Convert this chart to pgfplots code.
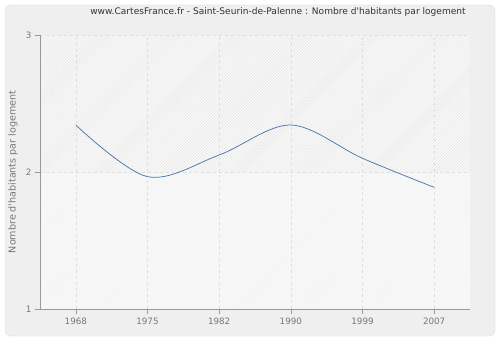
\documentclass[border=0pt]{standalone}
\usepackage{pgfplots}
\pgfplotsset{compat=1.18}
\usepackage{fontspec}
\setmainfont{DejaVu Sans}
\newfontfamily\df{DejaVu Sans}
\usetikzlibrary{patterns}
\definecolor{bgc}{HTML}{EFEFEF}
\definecolor{brd}{HTML}{DDDDDD}
\definecolor{axc}{HTML}{999999}
\definecolor{txc}{HTML}{777777}
\definecolor{gridc}{HTML}{DEDEDE}
\definecolor{linec}{HTML}{4C78AE}
\definecolor{hatch}{HTML}{E3E3E3}
\begin{document}
\begin{tikzpicture}[x=1bp,y=1bp]
\useasboundingbox (-40,-31) rectangle (460,309);
\fill[white] (-40,-31) rectangle (460,309);
\draw[brd,fill=bgc,rounded corners=6bp] (-35,-27) rectangle (455,304);
\fill[white!60!bgc] (0,0) rectangle (430,274);
\fill[pattern=north east lines,pattern color=hatch] (0,137) rectangle (430,274);
\fill[pattern=north east lines,pattern color=hatch!50!white] (0,0) rectangle (430,137);
\begin{axis}[
  at={(0,0)}, anchor=south west,
  scale only axis, width=430bp, height=274bp,
  xmin=-0.5, xmax=5.5, ymin=1, ymax=3,
  xtick={0,1,2,3,4,5},
  xticklabels={1968,1975,1982,1990,1999,2007},
  ytick={1,2,3},
  axis x line*=bottom, axis y line*=left,
  axis line style={axc,-},
  tick style={axc},
  tick align=outside,
  major tick length=5bp,
  grid=major,
  major grid style={gridc,dashed,line width=0.6pt},
  tick label style={txc,font=\fontsize{8.8}{10}\selectfont},
  /pgf/number format/assume math mode=true,
  xtick pos=bottom, ytick pos=left,
  clip=false,
]
\addplot[linec, line width=0.75pt, smooth, tension=0.55] coordinates {
 (0,2.343) (1,1.966) (2,2.124) (3,2.343) (4,2.10) (5,1.888)
};
\end{axis}
\node[txc,rotate=90,font=\df\fontsize{9.6}{11}\selectfont] at (-27,137) {Nombre d'habitants par logement};
\node[black!80,font=\df\fontsize{9.1}{11}\selectfont] at (238,297) {www.CartesFrance.fr - Saint-Seurin-de-Palenne : Nombre d'habitants par logement};
\end{tikzpicture}
\end{document}
